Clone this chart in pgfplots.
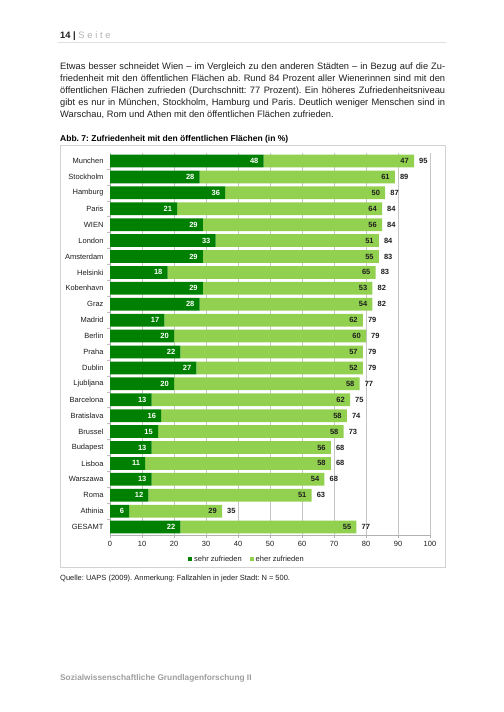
\documentclass[border=0pt]{standalone}
\usepackage{fontspec}
\setmainfont{Liberation Sans}
\usepackage{pgfplots}
\pgfplotsset{compat=1.18}
\usepackage{pgfplotstable}
\definecolor{dgreen}{RGB}{0,128,0}
\definecolor{lgreen}{RGB}{146,208,80}
\definecolor{txt}{RGB}{30,30,30}
\frenchspacing

\pgfplotstableread{
name dark light tot
Munchen 48 47 95
Stockholm 28 61 89
Hamburg 36 50 87
Paris 21 64 84
WIEN 29 56 84
London 33 51 84
Amsterdam 29 55 83
Helsinki 18 65 83
Kobenhavn 29 53 82
Graz 28 54 82
Madrid 17 62 79
Berlin 20 60 79
Praha 22 57 79
Dublin 27 52 79
Ljubljana 20 58 77
Barcelona 13 62 75
Bratislava 16 58 74
Brussel 15 58 73
Budapest 13 56 68
Lisboa 11 58 68
Warszawa 13 54 68
Roma 12 51 63
Athinia 6 29 35
GESAMT 22 55 77
}\datatable

\pgfplotsset{
  pagebox/.style={
    at={(110bp,-535bp)}, anchor=south west,
    scale only axis, width=320bp, height=382bp,
    xmin=0, xmax=100, ymin=-0.5, ymax=23.5, y dir=reverse,
    enlargelimits=false,
  }
}

\begin{document}
\frenchspacing
\begin{tikzpicture}
\fill[white] (0,0) rectangle (504bp,-712bp);
\path[use as bounding box] (0,0) rectangle (504bp,-712bp);

% header
\node[anchor=base west, inner sep=0pt, text=txt, font=\fontsize{9.3bp}{11bp}\selectfont] at (60bp,-38bp)
  {\textbf{14 |} \textcolor{gray!60}{\addfontfeature{LetterSpace=30}Seite}};
\draw[gray!25, line width=0.7bp] (58bp,-42bp) -- (446bp,-42bp);

% paragraph
\begin{scope}[every node/.style={anchor=base west, inner sep=0pt, text=txt, font=\fontsize{9.3bp}{11.8bp}\selectfont}]
\node at (60bp,-69.5bp) {\makebox[385bp][s]{Etwas besser schneidet Wien – im Vergleich zu den anderen Städten – in Bezug auf die Zu-}};
\node at (60bp,-81.5bp) {\makebox[385bp][s]{friedenheit mit den öffentlichen Flächen ab. Rund 84 Prozent aller Wienerinnen sind mit den}};
\node at (60bp,-93.5bp) {\makebox[385bp][s]{öffentlichen Flächen zufrieden (Durchschnitt: 77 Prozent). Ein höheres Zufriedenheitsniveau}};
\node at (60bp,-105.5bp) {\makebox[385bp][s]{gibt es nur in München, Stockholm, Hamburg und Paris. Deutlich weniger Menschen sind in}};
\node at (60bp,-117.5bp) {Warschau, Rom und Athen mit den öffentlichen Flächen zufrieden.};
\end{scope}

% figure title
\node[anchor=base west, inner sep=0pt, text=black, font=\bfseries\fontsize{8.5bp}{10bp}\selectfont] at (60bp,-141bp)
  {Abb. 7: Zufriedenheit mit den öffentlichen Flächen (in \%)};

% frame
\draw[gray!35, line width=0.8bp] (60bp,-145bp) rectangle (445.5bp,-567bp);

\begin{axis}[
  pagebox,
  xbar stacked, bar width=0.8,
  xtick={0,10,...,100},
  ytick={0,...,23},
  yticklabels from table={\datatable}{name},
  axis x line*=bottom, axis y line*=left,
  axis line style={draw=gray!60, line width=0.6bp},
  xmajorgrids, grid style={gray!45, line width=0.5bp},
  tick align=outside, major tick length=3bp, minor tick length=3bp,
  x tick style={draw=gray!60, line width=0.5bp},
  major y tick style={draw=none},
  minor y tick num=1,
  minor y tick style={draw=gray!50, line width=0.5bp},
  tick label style={font=\fontsize{7.5bp}{9bp}\selectfont, text=txt},
  /pgf/number format/assume math mode=true,
  legend style={at={(0.428,-0.063)}, anchor=center, draw=none, fill=none,
    legend columns=2, font=\fontsize{7.5bp}{9bp}\selectfont, text=txt,
    /tikz/every even column/.append style={column sep=6bp},
    inner sep=0pt},
  legend image code/.code={\fill[#1] (0bp,-2bp) rectangle (4bp,2bp);},
]
\addplot[fill=dgreen, draw=none]
  table[x=dark, y expr=\coordindex] {\datatable};
\addplot[fill=lgreen, draw=none]
  table[x=light, y expr=\coordindex] {\datatable};
\legend{sehr zufrieden, eher zufrieden}
\end{axis}

% value labels (same frame, not stacked)
\begin{axis}[
  pagebox, hide axis, clip=false,
  point meta=explicit symbolic,
  nodes near coords,
  every node near coord/.append style={font=\bfseries\fontsize{7.5bp}{9bp}\selectfont, inner sep=0pt},
]
\addplot[only marks, mark=none, draw=none,
  every node near coord/.append style={anchor=east, xshift=-5bp, text=white}]
  table[x=dark, y expr=\coordindex, meta=dark] {\datatable};
\addplot[only marks, mark=none, draw=none,
  every node near coord/.append style={anchor=east, xshift=-5bp, text=txt}]
  table[x expr=\thisrow{dark}+\thisrow{light}, y expr=\coordindex, meta=light] {\datatable};
\addplot[only marks, mark=none, draw=none,
  every node near coord/.append style={anchor=west, xshift=5bp, text=txt}]
  table[x expr=\thisrow{dark}+\thisrow{light}, y expr=\coordindex, meta=tot] {\datatable};
\end{axis}

% source
\node[anchor=base west, inner sep=0pt, text=txt, font=\fontsize{7.5bp}{9bp}\selectfont] at (60bp,-580.5bp)
  {Quelle: UAPS (2009). Anmerkung: Fallzahlen in jeder Stadt: N = 500.};

% footer
\node[anchor=base west, inner sep=0pt, text=gray!75, font=\bfseries\fontsize{8.3bp}{10bp}\selectfont] at (60bp,-680bp)
  {Sozialwissenschaftliche Grundlagenforschung II};
\end{tikzpicture}
\end{document}
